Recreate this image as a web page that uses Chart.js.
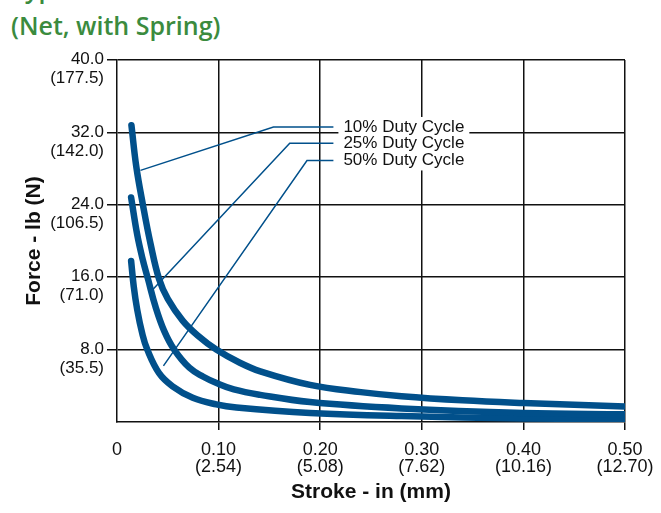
<!DOCTYPE html>
<html>
<head>
<meta charset="utf-8">
<script src="https://cdn.jsdelivr.net/npm/chart.js@4.4.0/dist/chart.umd.min.js"></script>
<style>
  html, body { margin: 0; padding: 0; background: #fff; }
  #wrap { position: relative; width: 661px; height: 513px; overflow: hidden; }
  .ttl {
    position: absolute; left: 11px; white-space: nowrap;
    font-family: "Open Sans", sans-serif; font-weight: 600;
    font-size: 25px; line-height: 25px; color: #3b8b3e;
  }
  #t1 { top: -24px; }
  #t2 { top: 13px; }
  canvas { position: absolute; left: 0; top: 0; }
</style>
</head>
<body>
<div id="wrap">
  <div class="ttl" id="t1">Typical Force vs. Stroke</div>
  <div class="ttl" id="t2">(Net, with Spring)</div>
  <canvas id="forceChart" width="661" height="513"></canvas>
</div>
<script>
// tick labels (inch / mm, lb / N)
const strokeIn = ["0", "0.10", "0.20", "0.30", "0.40", "0.50"];
const strokeMm = ["", "(2.54)", "(5.08)", "(7.62)", "(10.16)", "(12.70)"];
const forceLb = ["", "8.0", "16.0", "24.0", "32.0", "40.0"];
const forceN = ["", "(35.5)", "(71.0)", "(106.5)", "(142.0)", "(177.5)"];

// curves: stroke (in) vs force (lb)
const duty10X = [0.0142, 0.019, 0.0255, 0.033, 0.0414, 0.05, 0.0646, 0.08, 0.0977, 0.12, 0.141, 0.19, 0.24, 0.28, 0.34, 0.4, 0.5];
const duty10Y = [32.8, 28.2, 24.0, 19.7, 15.8, 13.6, 11.2, 9.5, 8.0, 6.6, 5.6, 4.1, 3.3, 2.85, 2.4, 2.1, 1.7];
const duty25X = [0.0139, 0.0199, 0.025, 0.0305, 0.038, 0.0463, 0.0563, 0.0712, 0.085, 0.098, 0.115, 0.141, 0.19, 0.28, 0.4, 0.5];
const duty25Y = [24.8, 20.7, 18.1, 15.8, 12.7, 10.1, 8.0, 6.0, 5.0, 4.3, 3.6, 3.0, 2.2, 1.5, 1.0, 0.85];
const duty50X = [0.0139, 0.0165, 0.0199, 0.0248, 0.0298, 0.0414, 0.0547, 0.0746, 0.0977, 0.1176, 0.19, 0.28, 0.4, 0.5];
const duty50Y = [17.8, 14.96, 12.4, 9.8, 8.0, 5.4, 3.95, 2.68, 1.95, 1.6, 1.0, 0.65, 0.4, 0.3];

// leader lines from curve to label
const dutyNames = ["10% Duty Cycle", "25% Duty Cycle", "50% Duty Cycle"];
const lead10X = [0.0231, 0.154, 0.213];
const lead10Y = [27.8, 32.6, 32.6];
const lead25X = [0.0341, 0.170, 0.213];
const lead25Y = [14.5, 30.8, 30.8];
const lead50X = [0.0457, 0.187, 0.213];
const lead50Y = [6.2, 28.9, 28.9];

const blue = "#01508b";
const font = '"Liberation Sans", Arial, Helvetica, sans-serif';

const pts = (xs, ys) => xs.map((x, i) => ({ x: x, y: ys[i] }));

const curve = (label, xs, ys) => ({
  label: label,
  data: pts(xs, ys),
  borderColor: blue,
  borderWidth: 6.5,
  borderCapStyle: "round",
  pointRadius: 0,
  tension: 0.4,
});

const leader = (xs, ys) => ({
  data: pts(xs, ys),
  borderColor: blue,
  borderWidth: 1.5,
  pointRadius: 0,
  tension: 0,
});

const leaders = [[lead10X, lead10Y], [lead25X, lead25Y], [lead50X, lead50Y]];

// labels at the end of each leader line, on a white patch
const dutyLabels = {
  id: "dutyLabels",
  beforeDatasetsDraw(chart) {
    const { ctx, scales } = chart;
    ctx.save();
    ctx.font = "17px " + font;
    ctx.textBaseline = "middle";
    const spots = leaders.map(([xs, ys]) => ({
      x: scales.x.getPixelForValue(xs[xs.length - 1]) + 10,
      y: scales.y.getPixelForValue(ys[ys.length - 1]),
    }));
    const w = Math.max(...dutyNames.map((n) => ctx.measureText(n).width));
    const top = Math.min(...spots.map((s) => s.y)) - 10;
    const bottom = Math.max(...spots.map((s) => s.y)) + 10;
    ctx.fillStyle = "#fff";
    ctx.fillRect(spots[0].x - 5, top, w + 10, bottom - top);
    ctx.fillStyle = "#111";
    dutyNames.forEach((n, i) => ctx.fillText(n, spots[i].x, spots[i].y));
    ctx.restore();
  },
};

const idx = (v, step) => Math.round(v / step);

new Chart(document.getElementById("forceChart"), {
  type: "line",
  data: {
    datasets: [
      curve(dutyNames[0], duty10X, duty10Y),
      curve(dutyNames[1], duty25X, duty25Y),
      curve(dutyNames[2], duty50X, duty50Y),
      ...leaders.map(([xs, ys]) => leader(xs, ys)),
    ],
  },
  options: {
    responsive: false,
    animation: false,
    events: [],
    layout: { padding: { top: 60, right: 36, left: 0, bottom: 0 } },
    plugins: { legend: { display: false }, tooltip: { enabled: false } },
    scales: {
      x: {
        type: "linear",
        min: 0,
        max: 0.5,
        afterFit: (s) => {
          s.height = 91;
          s.paddingLeft = 0;
          s.paddingRight = 0;
        },
        ticks: {
          stepSize: 0.1,
          color: "#111",
          padding: 12,
          font: { family: font, size: 18, lineHeight: "17px" },
          maxRotation: 0,
          callback: (v) => {
            const i = idx(v, 0.1);
            return i === 0 ? strokeIn[0] : [strokeIn[i], strokeMm[i]];
          },
        },
        grid: {
          color: (c) => (c.tick && c.tick.value === 0 ? "rgba(0,0,0,0)" : "#111"),
          lineWidth: 1.5,
          tickLength: 8,
        },
        border: { display: true, color: "#111", width: 1.5 },
        title: {
          display: true,
          text: "Stroke - in (mm)",
          color: "#111",
          font: { family: font, size: 21, weight: "bold" },
          padding: { top: 0, bottom: 8 },
        },
      },
      y: {
        min: 0,
        max: 40,
        afterFit: (s) => { s.width = 117; },
        ticks: {
          stepSize: 8,
          color: "#111",
          padding: 3,
          labelOffset: 9,
          font: { family: font, size: 17, lineHeight: "19px" },
          callback: (v) => {
            const i = idx(v, 8);
            return i === 0 ? "" : [forceLb[i], forceN[i]];
          },
        },
        grid: {
          color: (c) => (c.tick && c.tick.value === 0 ? "rgba(0,0,0,0)" : "#111"),
          lineWidth: 1.5,
          tickLength: 10,
        },
        border: { display: true, color: "#111", width: 1.5 },
        title: {
          display: true,
          text: "Force - lb (N)",
          color: "#111",
          font: { family: font, size: 21, weight: "bold" },
          padding: { top: 22, bottom: 0 },
        },
      },
    },
  },
  plugins: [dutyLabels],
});
</script>
</body>
</html>
